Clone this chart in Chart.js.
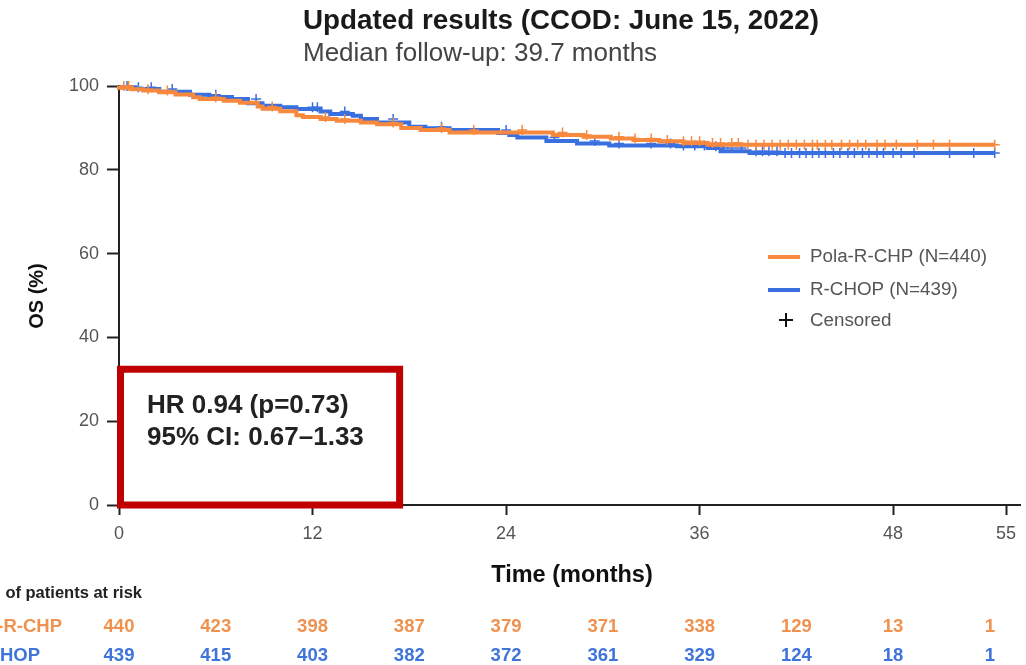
<!DOCTYPE html>
<html>
<head>
<meta charset="utf-8">
<script src="https://cdn.jsdelivr.net/npm/chart.js@4.4.1/dist/chart.umd.min.js"></script>
<style>
html,body{margin:0;padding:0;background:#fff;}
#wrap{width:1026px;height:665px;position:relative;}
</style>
</head>
<body>
<div id="wrap"><canvas id="c" width="1026" height="665"></canvas></div>
<script>
// ---- Data ----
const xTicks = [0, 12, 24, 36, 48, 55];
const riskTimes = [0, 6, 12, 18, 24, 30, 36, 42, 48, 54];
const riskPola = [440, 423, 398, 387, 379, 371, 338, 129, 13, 1];
const riskRchop = [439, 415, 403, 382, 372, 361, 329, 124, 18, 1];

// Kaplan-Meier step points: time (months) and OS (%) after each drop
const polaTimes = [0, 0.8, 1.5, 2.5, 3.5, 4.6, 5.0, 6.5, 7.5, 8.6, 8.9, 10.0, 11.0, 11.4, 12.5, 13.5, 15.0, 16.0, 17.5, 18.7, 20.5, 26.9, 28.8, 30.5, 31.9, 33.5, 35.0, 36.5, 38.5, 54.3];
const polaOS    = [100, 99.6, 99.2, 98.9, 98.5, 98.0, 97.3, 96.9, 96.5, 96.0, 95.1, 94.6, 94.0, 93.0, 92.6, 92.1, 91.7, 91.3, 90.9, 90.0, 89.5, 88.9, 88.3, 87.9, 87.5, 87.1, 86.8, 86.4, 86.0, 86.0];
const rchopTimes = [0, 1.0, 2.5, 4.4, 5.6, 7.0, 8.0, 8.9, 10.0, 11.0, 12.5, 13.1, 14.5, 15.0, 16.0, 18.0, 19.0, 20.5, 23.5, 24.2, 24.7, 26.5, 28.4, 30.4, 34.6, 36.5, 37.3, 39.1, 41.0, 54.3];
const rchopOS    = [100, 99.7, 99.3, 98.6, 97.9, 97.4, 96.9, 95.9, 95.3, 94.9, 94.5, 93.9, 93.3, 92.9, 92.1, 91.3, 90.3, 89.9, 89.5, 88.8, 88.3, 87.7, 86.9, 86.3, 85.8, 85.6, 85.2, 84.4, 84.0, 84.0];

// Censoring times (months)
const polaCensor = [0.3, 0.6, 1.8, 3.0, 6.0, 9.5, 12.8, 14.0, 17.0, 20.0, 22.0, 25.0, 27.5, 29.0, 31.0, 32.0, 33.0, 34.0, 35.0, 35.5, 36.0, 36.8, 37.3, 38.0, 38.4, 39.0, 39.5, 40.0, 40.5, 41.0, 41.5, 42.0, 42.5, 43.0, 43.3, 43.8, 44.2, 44.8, 45.3, 45.8, 46.3, 47.0, 47.5, 48.2, 49.5, 50.5, 51.5, 54.3];
const rchopCensor = [0.5, 1.2, 2.0, 3.3, 6.0, 8.5, 12.0, 12.3, 14.0, 17.0, 20.0, 24.0, 27.0, 29.5, 31.0, 33.0, 34.2, 35.0, 35.7, 36.3, 37.0, 37.5, 38.0, 38.6, 39.5, 39.9, 40.3, 40.8, 41.3, 41.7, 42.2, 42.6, 43.0, 43.4, 43.8, 44.3, 44.7, 45.2, 45.6, 46.1, 46.5, 47.0, 47.4, 48.0, 48.5, 49.3, 51.5, 53.0, 54.3];

const ORANGE = '#F7893F';
const BLUE = '#3A6FE0';
const ORANGE_T = '#F0924F';
const BLUE_T = '#3F74DA';
const FONT = "'Liberation Sans', Arial, Helvetica, sans-serif";

function pts(t, v) { return t.map((x, i) => ({x: x, y: v[i]})); }
function stepAt(t, v, time) {
  let s = v[0];
  for (let i = 0; i < t.length; i++) { if (t[i] <= time) s = v[i]; }
  return s;
}
function censorPts(ct, t, v) { return ct.map(c => ({x: c, y: stepAt(t, v, c)})); }

const annot = {
  id: 'annot',
  afterDraw(chart) {
    const {ctx, scales: {x, y}} = chart;
    ctx.save();
    // extend x axis line a little past 55
    ctx.strokeStyle = '#222'; ctx.lineWidth = 2;
    ctx.beginPath(); ctx.moveTo(x.getPixelForValue(55), y.getPixelForValue(0)); ctx.lineTo(x.getPixelForValue(55) + 15, y.getPixelForValue(0)); ctx.stroke();

    // Title
    ctx.fillStyle = '#1a1a1a';
    ctx.textBaseline = 'middle';
    ctx.textAlign = 'left';
    ctx.font = 'bold 27.8px ' + FONT;
    ctx.fillText('Updated results (CCOD: June 15, 2022)', 303, 21);
    ctx.fillStyle = '#444';
    ctx.font = '26px ' + FONT;
    ctx.fillText('Median follow-up: 39.7 months', 303, 54);

    // Axis titles
    ctx.fillStyle = '#111';
    ctx.font = 'bold 23.5px ' + FONT;
    ctx.textAlign = 'center';
    ctx.fillText('Time (months)', 572, 576);
    ctx.save();
    ctx.translate(37, 296);
    ctx.rotate(-Math.PI / 2);
    ctx.font = 'bold 20px ' + FONT;
    ctx.fillText('OS (%)', 0, 0);
    ctx.restore();

    // Red HR box
    const bx0 = x.getPixelForValue(0) + 1.5, bx1 = x.getPixelForValue(17.4);
    const by0 = y.getPixelForValue(32.4), by1 = y.getPixelForValue(0);
    ctx.fillStyle = '#fff';
    ctx.fillRect(bx0, by0, bx1 - bx0, by1 - by0);
    ctx.strokeStyle = '#C00000'; ctx.lineWidth = 7;
    ctx.strokeRect(bx0, by0, bx1 - bx0, by1 - by0);
    ctx.fillStyle = '#222';
    ctx.textAlign = 'left';
    ctx.font = 'bold 26px ' + FONT;
    ctx.fillText('HR 0.94 (p=0.73)', 147, 406);
    ctx.fillText('95% CI: 0.67\u20131.33', 147, 438);

    // Legend
    ctx.lineWidth = 4;
    ctx.strokeStyle = ORANGE;
    ctx.beginPath(); ctx.moveTo(768, 257); ctx.lineTo(800, 257); ctx.stroke();
    ctx.strokeStyle = BLUE;
    ctx.beginPath(); ctx.moveTo(768, 290); ctx.lineTo(800, 290); ctx.stroke();
    ctx.strokeStyle = '#111'; ctx.lineWidth = 2;
    ctx.beginPath(); ctx.moveTo(779, 320); ctx.lineTo(793, 320); ctx.moveTo(786, 313); ctx.lineTo(786, 327); ctx.stroke();
    ctx.fillStyle = '#555';
    ctx.font = '18.8px ' + FONT;
    ctx.fillText('Pola-R-CHP (N=440)', 810, 257);
    ctx.fillText('R-CHOP (N=439)', 810, 290);
    ctx.fillText('Censored', 810, 321);

    // Risk table
    ctx.font = 'bold 16.5px ' + FONT;
    ctx.fillStyle = '#222';
    ctx.textAlign = 'right';
    ctx.fillText('No. of patients at risk', 142, 593);
    ctx.font = 'bold 18.5px ' + FONT;
    ctx.fillStyle = ORANGE_T;
    ctx.fillText('Pola-R-CHP', 62, 627);
    ctx.fillStyle = BLUE_T;
    ctx.fillText('R-CHOP', 40, 656);
    ctx.textAlign = 'center';
    riskTimes.forEach((t, i) => {
      const px = x.getPixelForValue(t);
      ctx.fillStyle = ORANGE_T; ctx.fillText(String(riskPola[i]), px, 627);
      ctx.fillStyle = BLUE_T; ctx.fillText(String(riskRchop[i]), px, 656);
    });
    ctx.restore();
  }
};

new Chart(document.getElementById('c'), {
  type: 'line',
  data: {
    datasets: [
      {label: 'Pola-R-CHP (N=440)', data: pts(polaTimes, polaOS), borderColor: ORANGE, borderWidth: 4, stepped: 'after', pointRadius: 0, fill: false, clip: false},
      {label: 'Pola censored', type: 'scatter', data: censorPts(polaCensor, polaTimes, polaOS), pointStyle: 'cross', pointRadius: 5, borderColor: ORANGE, borderWidth: 1.5, showLine: false, clip: false},
      {label: 'R-CHOP (N=439)', data: pts(rchopTimes, rchopOS), borderColor: BLUE, borderWidth: 4, stepped: 'after', pointRadius: 0, fill: false, clip: false},
      {label: 'R-CHOP censored', type: 'scatter', data: censorPts(rchopCensor, rchopTimes, rchopOS), pointStyle: 'cross', pointRadius: 5, borderColor: BLUE, borderWidth: 1.5, showLine: false, clip: false}
    ]
  },
  options: {
    responsive: false,
    animation: false,
    events: [],
    layout: {padding: {left: 0, right: 20, top: 86, bottom: 0}},
    plugins: {legend: {display: false}, title: {display: false}, tooltip: {enabled: false}},
    scales: {
      x: {
        type: 'linear', min: 0, max: 55,
        afterBuildTicks: s => { s.ticks = xTicks.map(v => ({value: v})); },
        afterFit: s => { s.height = 160; },
        grid: {display: true, drawOnChartArea: false, drawTicks: true, tickLength: 10, tickColor: '#222', tickWidth: 2},
        border: {display: true, color: '#222', width: 2},
        ticks: {font: {family: FONT, size: 18}, color: '#555', padding: 8, maxRotation: 0, autoSkip: false}
      },
      y: {
        min: 0, max: 100,
        afterFit: s => { s.width = 119; },
        grid: {display: true, drawOnChartArea: false, drawTicks: true, tickLength: 12, tickColor: '#222', tickWidth: 2},
        border: {display: true, color: '#222', width: 2},
        ticks: {stepSize: 20, font: {family: FONT, size: 18}, color: '#555', padding: 8}
      }
    }
  },
  plugins: [annot]
});
</script>
</body>
</html>
